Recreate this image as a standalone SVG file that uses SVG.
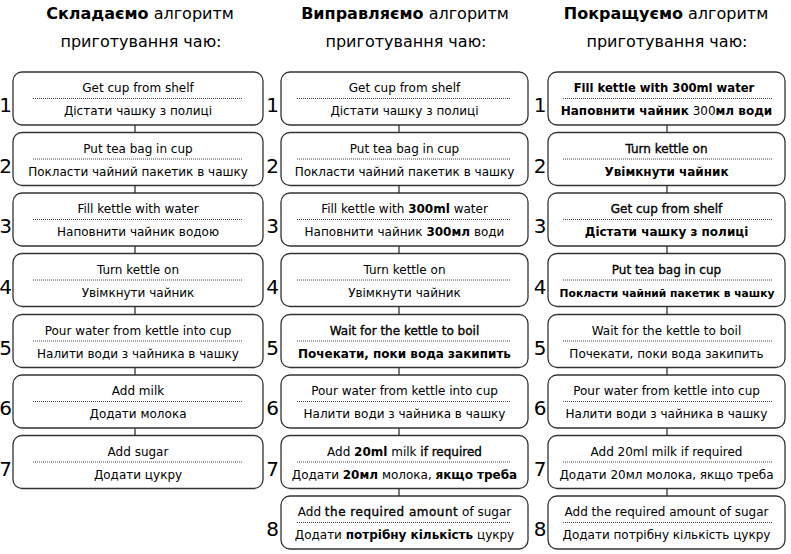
<svg xmlns="http://www.w3.org/2000/svg" width="791" height="554" viewBox="0 0 791 554">
<style>
text{font-family:"DejaVu Sans","Noto Sans",sans-serif;fill:#000}
.box{fill:#fff;stroke:#333;stroke-width:1.3}
.sep{stroke:#444;stroke-width:1;stroke-dasharray:1 1}
.t{font-size:12px;text-anchor:middle}
.b{font-weight:bold}
.s{stroke:#000;stroke-width:0.35}
.num{font-size:20px;text-anchor:middle}
.h{font-size:16px;text-anchor:middle}
.conn line{stroke:#333;stroke-width:1.3}
</style>
<rect width="791" height="554" fill="#fff"/>
<g id="headers">
<text class="h" x="140" y="19"><tspan class="b">Складаємо</tspan> алгоритм</text>
<text class="h" x="141" y="47">приготування чаю:</text>
<text class="h" x="405" y="19"><tspan class="b">Виправляємо</tspan> алгоритм</text>
<text class="h" x="406" y="47">приготування чаю:</text>
<text class="h" x="666" y="19"><tspan class="b">Покращуємо</tspan> алгоритм</text>
<text class="h" x="667" y="47">приготування чаю:</text>
</g>
<g id="connectors" class="conn">
<line x1="135" y1="125" x2="135" y2="132.5"/>
<line x1="135" y1="185.5" x2="135" y2="193"/>
<line x1="135" y1="246" x2="135" y2="253.5"/>
<line x1="135" y1="306.5" x2="135" y2="314.5"/>
<line x1="135" y1="367.5" x2="135" y2="375"/>
<line x1="135" y1="428" x2="135" y2="435.5"/>
<line x1="399" y1="125" x2="399" y2="132.5"/>
<line x1="399" y1="185.5" x2="399" y2="193"/>
<line x1="399" y1="246" x2="399" y2="253.5"/>
<line x1="399" y1="306.5" x2="399" y2="314.5"/>
<line x1="399" y1="367.5" x2="399" y2="375"/>
<line x1="399" y1="428" x2="399" y2="435.5"/>
<line x1="399" y1="488.5" x2="399" y2="496"/>
<line x1="667" y1="125" x2="667" y2="132.5"/>
<line x1="667" y1="185.5" x2="667" y2="193"/>
<line x1="667" y1="246" x2="667" y2="253.5"/>
<line x1="667" y1="306.5" x2="667" y2="314.5"/>
<line x1="667" y1="367.5" x2="667" y2="375"/>
<line x1="667" y1="428" x2="667" y2="435.5"/>
<line x1="667" y1="488.5" x2="667" y2="496"/>
</g>

<!-- Column 1 -->
<g id="c1-n1" transform="translate(13,72)"><text class="num" x="-7.5" y="40">1</text><rect class="box" width="250" height="53" rx="9"/><line class="sep" x1="20" y1="26.5" x2="230" y2="26.5"/><text class="t" x="125" y="20">Get cup from shelf</text><text class="t" x="125" y="43">Дістати чашку з полиці</text></g>
<g id="c1-n2" transform="translate(13,132.5)"><text class="num" x="-7.5" y="40">2</text><rect class="box" width="250" height="53" rx="9"/><line class="sep" x1="20" y1="26.5" x2="230" y2="26.5"/><text class="t" x="125" y="20">Put tea bag in cup</text><text class="t" x="125" y="43">Покласти чайний пакетик в чашку</text></g>
<g id="c1-n3" transform="translate(13,193)"><text class="num" x="-7.5" y="40">3</text><rect class="box" width="250" height="53" rx="9"/><line class="sep" x1="20" y1="26.5" x2="230" y2="26.5"/><text class="t" x="125" y="20">Fill kettle with water</text><text class="t" x="125" y="43">Наповнити чайник водою</text></g>
<g id="c1-n4" transform="translate(13,253.5)"><text class="num" x="-7.5" y="40">4</text><rect class="box" width="250" height="53" rx="9"/><line class="sep" x1="20" y1="26.5" x2="230" y2="26.5"/><text class="t" x="125" y="20">Turn kettle on</text><text class="t" x="125" y="43">Увімкнути чайник</text></g>
<g id="c1-n5" transform="translate(13,314.5)"><text class="num" x="-7.5" y="40">5</text><rect class="box" width="250" height="53" rx="9"/><line class="sep" x1="20" y1="26.5" x2="230" y2="26.5"/><text class="t" x="125" y="20">Pour water from kettle into cup</text><text class="t" x="125" y="43">Налити води з чайника в чашку</text></g>
<g id="c1-n6" transform="translate(13,375)"><text class="num" x="-7.5" y="40">6</text><rect class="box" width="250" height="53" rx="9"/><line class="sep" x1="20" y1="26.5" x2="230" y2="26.5"/><text class="t" x="125" y="20">Add milk</text><text class="t" x="125" y="43">Додати молока</text></g>
<g id="c1-n7" transform="translate(13,435.5)"><text class="num" x="-7.5" y="40">7</text><rect class="box" width="250" height="53" rx="9"/><line class="sep" x1="20" y1="26.5" x2="230" y2="26.5"/><text class="t" x="125" y="20">Add sugar</text><text class="t" x="125" y="43">Додати цукру</text></g>

<!-- Column 2 -->
<g id="c2-n1" transform="translate(281,72)"><text class="num" x="-8.5" y="40">1</text><rect class="box" width="247" height="53" rx="9"/><line class="sep" x1="16" y1="26.5" x2="229" y2="26.5"/><text class="t" x="123.5" y="20">Get cup from shelf</text><text class="t" x="123.5" y="43">Дістати чашку з полиці</text></g>
<g id="c2-n2" transform="translate(281,132.5)"><text class="num" x="-8.5" y="40">2</text><rect class="box" width="247" height="53" rx="9"/><line class="sep" x1="16" y1="26.5" x2="229" y2="26.5"/><text class="t" x="123.5" y="20">Put tea bag in cup</text><text class="t" x="123.5" y="43">Покласти чайний пакетик в чашку</text></g>
<g id="c2-n3" transform="translate(281,193)"><text class="num" x="-8.5" y="40">3</text><rect class="box" width="247" height="53" rx="9"/><line class="sep" x1="16" y1="26.5" x2="229" y2="26.5"/><text class="t" x="123.5" y="20">Fill kettle with <tspan class="b">300ml</tspan> water</text><text class="t" x="123.5" y="43">Наповнити чайник <tspan class="b">300мл</tspan> води</text></g>
<g id="c2-n4" transform="translate(281,253.5)"><text class="num" x="-8.5" y="40">4</text><rect class="box" width="247" height="53" rx="9"/><line class="sep" x1="16" y1="26.5" x2="229" y2="26.5"/><text class="t" x="123.5" y="20">Turn kettle on</text><text class="t" x="123.5" y="43">Увімкнути чайник</text></g>
<g id="c2-n5" transform="translate(281,314.5)"><text class="num" x="-8.5" y="40">5</text><rect class="box" width="247" height="53" rx="9"/><line class="sep" x1="16" y1="26.5" x2="229" y2="26.5"/><text class="t s" x="123.5" y="20">Wait for the kettle to boil</text><text class="t b" x="123.5" y="43">Почекати, поки вода закипить</text></g>
<g id="c2-n6" transform="translate(281,375)"><text class="num" x="-8.5" y="40">6</text><rect class="box" width="247" height="53" rx="9"/><line class="sep" x1="16" y1="26.5" x2="229" y2="26.5"/><text class="t" x="123.5" y="20">Pour water from kettle into cup</text><text class="t" x="123.5" y="43">Налити води з чайника в чашку</text></g>
<g id="c2-n7" transform="translate(281,435.5)"><text class="num" x="-8.5" y="40">7</text><rect class="box" width="247" height="53" rx="9"/><line class="sep" x1="16" y1="26.5" x2="229" y2="26.5"/><text class="t" x="123.5" y="20">Add <tspan class="b">20ml</tspan> milk <tspan class="s">if required</tspan></text><text class="t" x="123.5" y="43">Додати <tspan class="b">20мл</tspan> молока, <tspan class="b">якщо треба</tspan></text></g>
<g id="c2-n8" transform="translate(281,496)"><text class="num" x="-8.5" y="40">8</text><rect class="box" width="247" height="53" rx="9"/><line class="sep" x1="16" y1="26.5" x2="229" y2="26.5"/><text class="t" x="123.5" y="20">Add <tspan class="s" style="letter-spacing:0.5px">the required amount</tspan> of sugar</text><text class="t" x="123.5" y="43">Додати <tspan class="b">потрібну кількість</tspan> цукру</text></g>

<!-- Column 3 -->
<g id="c3-n1" transform="translate(548,72)"><text class="num" x="-8" y="40">1</text><rect class="box" width="237" height="53" rx="9"/><line class="sep" x1="15" y1="26.5" x2="224" y2="26.5"/><text class="t b" x="116" y="20" style="font-size:11.6px">Fill kettle with 300ml water</text><text class="t" x="118.5" y="43"><tspan class="b">Наповнити чайник</tspan> 300<tspan class="b">мл води</tspan></text></g>
<g id="c3-n2" transform="translate(548,132.5)"><text class="num" x="-8" y="40">2</text><rect class="box" width="237" height="53" rx="9"/><line class="sep" x1="15" y1="26.5" x2="224" y2="26.5"/><text class="t s" x="118.5" y="20">Turn kettle on</text><text class="t b" x="118.5" y="43">Увімкнути чайник</text></g>
<g id="c3-n3" transform="translate(548,193)"><text class="num" x="-8" y="40">3</text><rect class="box" width="237" height="53" rx="9"/><line class="sep" x1="15" y1="26.5" x2="224" y2="26.5"/><text class="t s" x="118.5" y="20">Get cup from shelf</text><text class="t b" x="118.5" y="43">Дістати чашку з полиці</text></g>
<g id="c3-n4" transform="translate(548,253.5)"><text class="num" x="-8" y="40">4</text><rect class="box" width="237" height="53" rx="9"/><line class="sep" x1="15" y1="26.5" x2="224" y2="26.5"/><text class="t s" x="118.5" y="20">Put tea bag in cup</text><text class="t b" x="119" y="43" style="font-size:10.7px">Покласти чайний пакетик в чашку</text></g>
<g id="c3-n5" transform="translate(548,314.5)"><text class="num" x="-8" y="40">5</text><rect class="box" width="237" height="53" rx="9"/><line class="sep" x1="15" y1="26.5" x2="224" y2="26.5"/><text class="t" x="118.5" y="20">Wait for the kettle to boil</text><text class="t" x="118.5" y="43">Почекати, поки вода закипить</text></g>
<g id="c3-n6" transform="translate(548,375)"><text class="num" x="-8" y="40">6</text><rect class="box" width="237" height="53" rx="9"/><line class="sep" x1="15" y1="26.5" x2="224" y2="26.5"/><text class="t" x="118.5" y="20">Pour water from kettle into cup</text><text class="t" x="118.5" y="43">Налити води з чайника в чашку</text></g>
<g id="c3-n7" transform="translate(548,435.5)"><text class="num" x="-8" y="40">7</text><rect class="box" width="237" height="53" rx="9"/><line class="sep" x1="15" y1="26.5" x2="224" y2="26.5"/><text class="t" x="118.5" y="20">Add 20ml milk if required</text><text class="t" x="118.5" y="43">Додати 20мл молока, якщо треба</text></g>
<g id="c3-n8" transform="translate(548,496)"><text class="num" x="-8" y="40">8</text><rect class="box" width="237" height="53" rx="9"/><line class="sep" x1="15" y1="26.5" x2="224" y2="26.5"/><text class="t" x="118.5" y="20">Add the required amount of sugar</text><text class="t" x="118.5" y="43">Додати потрібну кількість цукру</text></g>
</svg>
